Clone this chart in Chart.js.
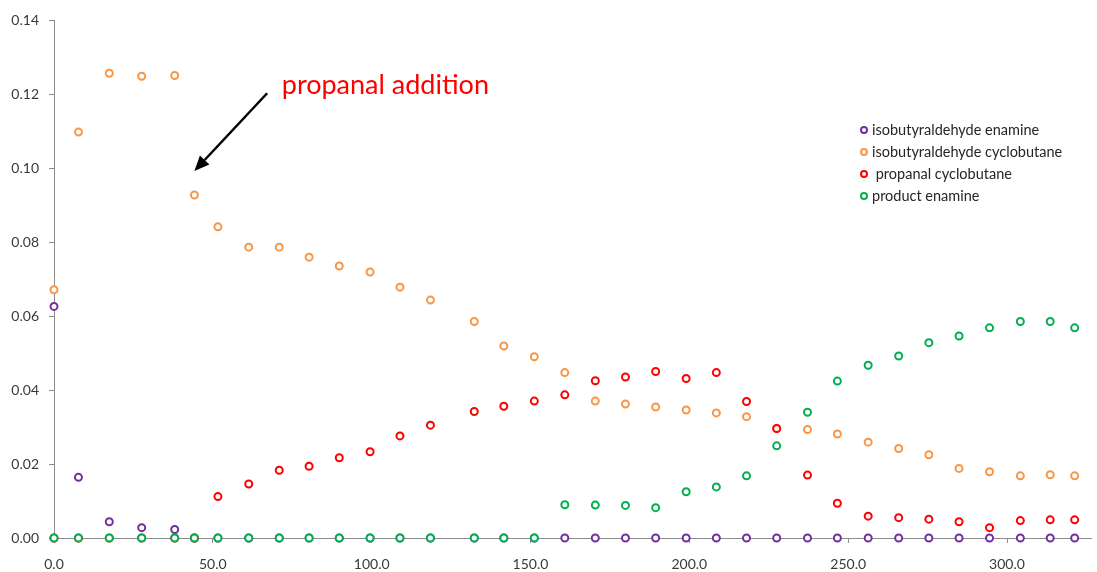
<!DOCTYPE html>
<html>
<head>
<meta charset="utf-8">
<script src="https://cdn.jsdelivr.net/npm/chart.js@4.4.1/dist/chart.umd.min.js"></script>
<style>
  html, body { margin: 0; padding: 0; background: #ffffff; }
  #wrap { width: 1097px; height: 572px; }
</style>
</head>
<body>
<div id="wrap"><canvas id="c" width="1097" height="572"></canvas></div>
<script>
// Sampling times
const times = [0, 7.7, 17.4, 27.6, 38.0, 44.2, 51.6, 61.3, 70.9, 80.3, 89.8, 99.5, 108.9, 118.5,
  132.3, 141.6, 151.2, 160.8, 170.4, 179.9, 189.4, 199.0, 208.5, 218.0, 227.5, 237.2, 246.6,
  256.3, 265.9, 275.4, 284.9, 294.5, 304.2, 313.6, 321.3];

// Species concentrations
const isobutyraldehydeEnamine = [0.0626, 0.0164, 0.0044, 0.0028, 0.0023, 0, 0, 0, 0, 0, 0, 0, 0, 0,
  0, 0, 0, 0, 0, 0, 0, 0, 0, 0, 0, 0, 0, 0, 0, 0, 0, 0, 0, 0, 0];
const isobutyraldehydeCyclobutane = [0.0671, 0.1097, 0.1256, 0.1248, 0.1250, 0.0927, 0.0841, 0.0786,
  0.0786, 0.0759, 0.0735, 0.0719, 0.0678, 0.0643, 0.0585, 0.0519, 0.0490, 0.0447, 0.0370, 0.0362,
  0.0354, 0.0346, 0.0338, 0.0328, 0.0296, 0.0293, 0.0281, 0.0259, 0.0242, 0.0225, 0.0188, 0.0179,
  0.0168, 0.0171, 0.0168];
const propanalCyclobutane = [0, 0, 0, 0, 0, 0, 0.0112, 0.0146, 0.0183, 0.0194, 0.0217, 0.0233, 0.0276,
  0.0305, 0.0342, 0.0356, 0.0370, 0.0387, 0.0425, 0.0435, 0.0450, 0.0431, 0.0447, 0.0369, 0.0296,
  0.0170, 0.0094, 0.0059, 0.0055, 0.0051, 0.0044, 0.0028, 0.0047, 0.0049, 0.0049];
const productEnamine = [0, 0, 0, 0, 0, 0, 0, 0, 0, 0, 0, 0, 0, 0, 0, 0, 0, 0.0090, 0.0089, 0.0088,
  0.0082, 0.0125, 0.0138, 0.0168, 0.0249, 0.0340, 0.0424, 0.0467, 0.0492, 0.0528, 0.0546, 0.0568,
  0.0585, 0.0585, 0.0568];

const seriesNames = ['isobutyraldehyde enamine', 'isobutyraldehyde cyclobutane', ' propanal cyclobutane', 'product enamine'];
const seriesColors = ['#7030A0', '#F79646', '#FF0000', '#00B050'];
const seriesValues = [isobutyraldehydeEnamine, isobutyraldehydeCyclobutane, propanalCyclobutane, productEnamine];

const xTickValues = [0, 50, 100, 150, 200, 250, 300];
const annotationText = 'propanal addition';

const FONT = 'Lato, "Open Sans", sans-serif';

const datasets = seriesNames.map((name, i) => ({
  label: name,
  data: times.map((t, k) => ({ x: t, y: seriesValues[i][k] })),
  showLine: false,
  clip: false,
  pointStyle: 'circle',
  pointRadius: 3.5,
  pointHoverRadius: 3.5,
  pointBorderWidth: 2,
  borderColor: seriesColors[i],
  backgroundColor: '#ffffff',
  order: seriesNames.length - 1 - i
}));

// Legend drawn as a plain list in the upper right of the plot
const sideLegend = {
  id: 'sideLegend',
  afterDatasetsDraw(chart) {
    const ctx = chart.ctx;
    ctx.save();
    ctx.font = '14.5px ' + FONT;
    ctx.textBaseline = 'middle';
    ctx.textAlign = 'left';
    chart.data.datasets.forEach((ds, i) => {
      const y = 130 + i * 22;
      ctx.beginPath();
      ctx.arc(864, y, 3, 0, Math.PI * 2);
      ctx.fillStyle = '#ffffff';
      ctx.fill();
      ctx.lineWidth = 2;
      ctx.strokeStyle = ds.borderColor;
      ctx.stroke();
      ctx.fillStyle = '#262626';
      ctx.fillText(ds.label, 872, y + 0.5);
    });
    ctx.restore();
  }
};

// Arrow and caption marking the moment propanal was added
const additionNote = {
  id: 'additionNote',
  afterDatasetsDraw(chart) {
    const xs = chart.scales.x, ys = chart.scales.y;
    const ctx = chart.ctx;
    const tipX = xs.getPixelForValue(44.2), tipY = ys.getPixelForValue(0.0992);
    const tailX = xs.getPixelForValue(67.1), tailY = ys.getPixelForValue(0.1202);
    ctx.save();
    ctx.strokeStyle = '#000000';
    ctx.fillStyle = '#000000';
    ctx.lineWidth = 2.5;
    const ang = Math.atan2(tipY - tailY, tipX - tailX);
    const headLen = 15, headHalf = 6.5;
    const baseX = tipX - headLen * Math.cos(ang), baseY = tipY - headLen * Math.sin(ang);
    ctx.beginPath();
    ctx.moveTo(tailX, tailY);
    ctx.lineTo(baseX, baseY);
    ctx.stroke();
    ctx.beginPath();
    ctx.moveTo(tipX, tipY);
    ctx.lineTo(baseX + headHalf * Math.sin(ang), baseY - headHalf * Math.cos(ang));
    ctx.lineTo(baseX - headHalf * Math.sin(ang), baseY + headHalf * Math.cos(ang));
    ctx.closePath();
    ctx.fill();
    ctx.font = '27px ' + FONT;
    ctx.fillStyle = '#FF0000';
    ctx.textBaseline = 'alphabetic';
    ctx.textAlign = 'left';
    ctx.fillText(annotationText, xs.getPixelForValue(71.7), tailY + 1);
    ctx.restore();
  }
};

new Chart(document.getElementById('c'), {
  type: 'scatter',
  data: { datasets },
  options: {
    responsive: false,
    animation: false,
    layout: { padding: { top: 20, right: 0, left: 0, bottom: 0 } },
    plugins: {
      legend: { display: false },
      tooltip: { enabled: false },
      title: { display: false }
    },
    scales: {
      x: {
        type: 'linear',
        min: 0,
        max: 326.6,
        afterBuildTicks(scale) {
          scale.ticks = xTickValues.map(v => ({ value: v }));
        },
        afterFit(scale) { scale.height = 34; },
        ticks: {
          color: '#3a3a3a',
          font: { family: FONT, size: 14 },
          padding: 13,
          maxRotation: 0,
          autoSkip: false,
          callback: v => Number(v).toFixed(1)
        },
        grid: { display: true, drawOnChartArea: false, drawTicks: true, tickLength: 5, color: '#8c8c8c' },
        border: { display: true, color: '#8c8c8c', width: 1 }
      },
      y: {
        type: 'linear',
        min: 0,
        max: 0.14,
        afterFit(scale) { scale.width = 54; },
        ticks: {
          stepSize: 0.02,
          color: '#3a3a3a',
          font: { family: FONT, size: 14 },
          padding: 10,
          callback: v => Number(v).toFixed(2)
        },
        grid: { display: true, drawOnChartArea: false, drawTicks: true, tickLength: 5, color: '#8c8c8c' },
        border: { display: true, color: '#8c8c8c', width: 1 }
      }
    }
  },
  plugins: [sideLegend, additionNote]
});
</script>
</body>
</html>
